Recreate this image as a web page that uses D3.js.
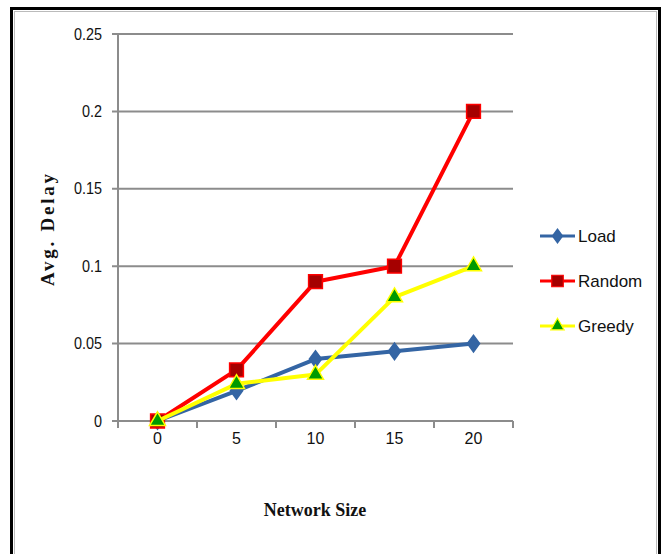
<!DOCTYPE html>
<html><head><meta charset="utf-8">
<script src="https://cdn.jsdelivr.net/npm/d3@7"></script>
<style>body{margin:0;background:#fff}</style>
</head><body>
<svg id="c" width="665" height="554"></svg>
<script>
const categories = ["0","5","10","15","20"];
const loadValues = [0, 0.0195, 0.040, 0.045, 0.050];
const randomValues = [0, 0.033, 0.090, 0.100, 0.200];
const greedyValues = [0, 0.024, 0.030, 0.080, 0.100];
const yTicks = [0, 0.05, 0.1, 0.15, 0.2, 0.25];
const yTickLabels = ["0","0.05","0.1","0.15","0.2","0.25"];
const seriesNames = ["Load","Random","Greedy"];

const svg = d3.select("#c");
const tickFont = "'Liberation Sans Narrow','Arial Narrow','Liberation Sans',Arial,sans-serif";

// frame
svg.append("rect").attr("x",11.5).attr("y",8.5).attr("width",648).attr("height",600)
  .attr("fill","none").attr("stroke","#000").attr("stroke-width",3);
svg.append("rect").attr("x",14.5).attr("y",11.5).attr("width",642).attr("height",600)
  .attr("fill","none").attr("stroke","#bbb").attr("stroke-width",1);

const x = d3.scaleBand().domain(categories).range([118,513]);
const y = d3.scaleLinear().domain([0,0.25]).range([421,34]);

// gridlines
svg.append("g").selectAll("line").data(yTicks).join("line")
  .attr("x1",112).attr("x2",513).attr("y1",d=>y(d)).attr("y2",d=>y(d))
  .attr("stroke","#8c8c8c").attr("stroke-width",2);

// y axis line
svg.append("line").attr("x1",118).attr("x2",118).attr("y1",y(0.25)).attr("y2",428)
  .attr("stroke","#8c8c8c").attr("stroke-width",2);

// x axis ticks at band boundaries
const bounds = categories.map(c=>x(c)).concat([x.range()[1]]);
svg.append("g").selectAll("line").data(bounds).join("line")
  .attr("x1",d=>d).attr("x2",d=>d).attr("y1",421).attr("y2",428)
  .attr("stroke","#8c8c8c").attr("stroke-width",2);

// y labels
svg.append("g").selectAll("text").data(yTicks).join("text")
  .attr("x",102).attr("y",d=>y(d)).attr("dy","0.35em").attr("text-anchor","end")
  .attr("font-family",tickFont).attr("font-size",16).attr("fill","#111")
  .attr("transform",d=>`translate(${102*0.1},0) scale(0.9,1)`)
  .text((d,i)=>yTickLabels[i]);

// x labels
svg.append("g").selectAll("text").data(categories).join("text")
  .attr("x",d=>x(d)+x.bandwidth()/2).attr("y",438).attr("dy","0.35em").attr("text-anchor","middle")
  .attr("font-family",tickFont).attr("font-size",16).attr("fill","#111")
  .text(d=>d);

// axis titles
svg.append("text").attr("x",315).attr("y",516).attr("text-anchor","middle")
  .attr("font-family","'Liberation Serif','Times New Roman',serif").attr("font-weight","bold")
  .attr("font-size",18).attr("fill","#111").text("Network Size");
svg.append("text").attr("transform","translate(54,230) rotate(-90)").attr("text-anchor","middle")
  .attr("font-family","'Liberation Serif','Times New Roman',serif").attr("font-weight","bold")
  .attr("font-size",19).attr("fill","#111")
  .attr("textLength",112).attr("lengthAdjust","spacing").text("Avg. Delay");

const series = [
  {name:seriesNames[0], values:loadValues, line:"#3465a4", fill:"#3465a4", stroke:"#3465a4", sym:d3.symbolDiamond, size:60},
  {name:seriesNames[1], values:randomValues, line:"#ff0000", fill:"#a50000", stroke:"#ff0000", sym:d3.symbolSquare, size:190},
  {name:seriesNames[2], values:greedyValues, line:"#ffff00", fill:"#009a00", stroke:"#ffff00", sym:d3.symbolTriangle, size:110}
];

const cx = c => x(c)+x.bandwidth()/2;
const lineGen = d3.line().x((d,i)=>cx(categories[i])).y(d=>y(d));
const symTf = s => s.sym===d3.symbolDiamond ? " scale(1.4,1.1)" : "";

series.forEach(s=>{
  svg.append("path").datum(s.values).attr("d",lineGen).attr("fill","none")
    .attr("stroke",s.line).attr("stroke-width",4).attr("stroke-linejoin","round");
  svg.append("g").selectAll("path").data(s.values).join("path")
    .attr("d",d3.symbol().type(s.sym).size(s.size))
    .attr("transform",(d,i)=>`translate(${cx(categories[i])},${y(d)})${symTf(s)}`)
    .attr("fill",s.fill).attr("stroke",s.stroke).attr("stroke-width",1.5);
});

// legend
const legY = [236,281,326];
series.forEach((s,i)=>{
  const g = svg.append("g").attr("transform",`translate(540,${legY[i]})`);
  g.append("line").attr("x1",0).attr("x2",35).attr("y1",0).attr("y2",0)
    .attr("stroke",s.line).attr("stroke-width",3);
  g.append("path").attr("d",d3.symbol().type(s.sym).size(s.size*0.7))
    .attr("transform",`translate(17.5,0)${symTf(s)}`)
    .attr("fill",s.fill).attr("stroke",s.stroke).attr("stroke-width",1.2);
  g.append("text").attr("x",38).attr("y",0).attr("dy","0.35em")
    .attr("font-family",tickFont).attr("font-size",17).attr("fill","#111").text(s.name);
});
</script>
</body></html>
